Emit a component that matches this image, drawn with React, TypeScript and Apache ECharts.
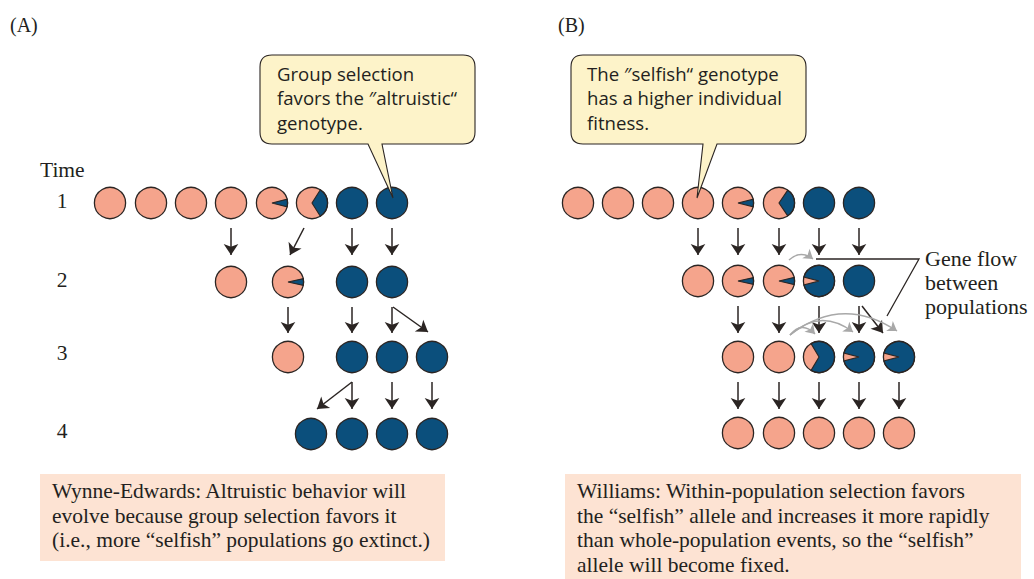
import React, { useEffect, useRef } from "react";
import * as echarts from "echarts";

// ---------- data ----------
// populations: [x, y, fraction of the "altruistic" (blue) genotype]
const panelAPopulations: number[][] = [
  [110, 203, 0], [151, 203, 0], [191, 203, 0], [231, 203, 0], [272, 203, 0.08], [312, 203, 0.32], [352, 203, 1], [392, 203, 1],
  [231, 282, 0], [288, 282, 0.07], [352, 282, 1], [392, 282, 1],
  [288, 357, 0], [352, 357, 1], [392, 357, 1], [432, 357, 1],
  [311, 434, 1], [352, 434, 1], [392, 434, 1], [432, 434, 1],
];
const panelBPopulations: number[][] = [
  [578, 203, 0], [618, 203, 0], [658, 203, 0], [698, 203, 0], [738, 203, 0.078], [779, 203, 0.31], [819, 203, 1], [859, 203, 1],
  [698, 281, 0], [738, 281, 0.07], [779, 281, 0.075], [819, 281, 0.92], [859, 281, 1],
  [738, 357, 0], [779, 357, 0], [819, 357, 0.67], [859, 357, 0.92], [899, 357, 0.92],
  [738, 433, 0], [779, 433, 0], [819, 433, 0], [859, 433, 0], [899, 433, 0],
];
// descent arrows: [x1, y1, x2, y2]
const descentArrows: number[][] = [
  [231, 228, 231, 255], [304, 228, 290, 255], [352, 228, 352, 255], [392, 228, 392, 255],
  [288, 307, 288, 333], [352, 307, 352, 333], [392, 307, 392, 333], [393, 307, 428, 332],
  [352, 382, 317, 409], [352, 382, 352, 409], [392, 382, 392, 409], [432, 382, 432, 409],
  [698, 228, 698, 255], [738, 228, 738, 255], [779, 228, 779, 255], [819, 228, 819, 255], [859, 228, 859, 255],
  [738, 306, 738, 333], [779, 306, 779, 333], [819, 306, 819, 333], [859, 306, 859, 333], [862, 306, 883, 333],
  [738, 382, 738, 409], [779, 382, 779, 409], [819, 382, 819, 409], [859, 382, 859, 409], [899, 382, 899, 409],
];
// gene-flow arcs: [x1, y1, x2, y2, curveness]
const geneFlowArcs: number[][] = [
  [789, 260, 813, 259, 0.42],
  [790, 335, 815, 334, 0.56],
  [790, 335, 853, 332, 0.41],
  [790, 335, 897, 331, 0.36],
];
const geneFlowLeader: number[][] = [[816, 259], [919, 259], [887, 316]];

const panelLabels = ["(A)", "(B)"];
const timeTitle = "Time";
const rowLabels = ["1", "2", "3", "4"];
const calloutA = ["Group selection", "favors the \u2033altruistic\u201C", "genotype."];
const calloutB = ["The \u2033selfish\u201C genotype", "has a higher individual", "fitness."];
const geneFlowText = ["Gene flow", "between", "populations"];
const captionA = [
  "Wynne-Edwards: Altruistic behavior will",
  "evolve because group selection favors it",
  "(i.e., more \u201Cselfish\u201D populations go extinct.)",
];
const captionB = [
  "Williams: Within-population selection favors",
  "the \u201Cselfish\u201D allele and increases it more rapidly",
  "than whole-population events, so the \u201Cselfish\u201D",
  "allele will become fixed.",
];

// ---------- style ----------
const PINK = "#f5a48c";
const BLUE = "#0b4f7c";
const DARK = "#2b2523";
const GRAY = "#a8a8a8";
const CALLOUT = "#fdf3c9";
const BOX = "#fde3d3";
const TEXT = "#231f20";
const SERIF = "'Liberation Serif', 'Times New Roman', serif";
const SANS = "'Open Sans', 'Noto Sans', sans-serif";

echarts.graphic.registerShape(
  "calloutA",
  echarts.graphic.extendPath(
    "M272,55 L463,55 Q475,55 475,67 L475,132 Q475,144 463,144 L382,144 L393,198 L368,144 L272,144 Q260,144 260,132 L260,67 Q260,55 272,55 Z",
    {}
  )
);
echarts.graphic.registerShape(
  "calloutB",
  echarts.graphic.extendPath(
    "M583,55 L794,55 Q806,55 806,67 L806,132 Q806,144 794,144 L717,144 L697,198 L703,144 L583,144 Q571,144 571,132 L571,67 Q571,55 583,55 Z",
    {}
  )
);

function textEl(text: string, x: number, baseline: number, size: number, family: string, align = "left") {
  return {
    type: "text",
    x,
    y: baseline - size * 0.32,
    z: 20,
    style: {
      text,
      fill: TEXT,
      fontSize: size,
      fontFamily: family,
      textAlign: align,
      textVerticalAlign: "middle",
    },
  };
}

function lines(arr: string[], x: number, firstBaseline: number, step: number, size: number, family: string) {
  return arr.map((t, i) => textEl(t, x, firstBaseline + i * step, size, family));
}

export default function App() {
  const ref = useRef<HTMLDivElement>(null);
  useEffect(() => {
    if (!ref.current) return;
    const chart = echarts.init(ref.current, undefined, { renderer: "svg" });
    const R = 15.6;
    const renderPop = (params: any, api: any) => {
      const p = api.coord([api.value(0), api.value(1)]);
      const f = api.value(2);
      const children: any[] = [
        { type: "circle", shape: { cx: p[0], cy: p[1], r: R }, style: { fill: f >= 0.999 ? BLUE : PINK } },
      ];
      if (f > 0 && f < 0.999) {
        const half = f * Math.PI;
        children.push({
          type: "sector",
          shape: { cx: p[0], cy: p[1], r: R, r0: 0, startAngle: -half, endAngle: half, clockwise: true },
          style: { fill: BLUE, stroke: DARK, lineWidth: 1.1, lineJoin: "miter" },
        });
      }
      children.push({
        type: "circle",
        shape: { cx: p[0], cy: p[1], r: R },
        style: { fill: "none", stroke: DARK, lineWidth: 1.3 },
      });
      return { type: "group", children };
    };
    const graphic: any[] = [
      { type: "rect", shape: { x: 40, y: 474, width: 405, height: 87 }, style: { fill: BOX }, z: 1 },
      { type: "rect", shape: { x: 565, y: 474, width: 456, height: 105 }, style: { fill: BOX }, z: 1 },
      { type: "calloutA", x: 0, y: 0, z: 10, style: { fill: CALLOUT, stroke: DARK, lineWidth: 1.1, lineJoin: "miter" } },
      { type: "calloutB", x: 0, y: 0, z: 10, style: { fill: CALLOUT, stroke: DARK, lineWidth: 1.1, lineJoin: "miter" } },
      textEl(panelLabels[0], 10, 31, 20, SERIF),
      textEl(panelLabels[1], 558, 31, 20, SERIF),
      textEl(timeTitle, 40, 177, 21.5, SERIF),
      ...rowLabels.map((t, i) => textEl(t, 62, [208, 287, 360, 438][i], 21.5, SERIF, "center")),
      ...lines(calloutA, 277, 79, 24.5, 18.6, SANS),
      ...lines(calloutB, 587, 79, 24.5, 18.6, SANS),
      ...lines(geneFlowText, 925, 266, 24, 22, SERIF),
      ...lines(captionA, 52, 498, 24.5, 21.5, SERIF),
      ...lines(captionB, 577, 498, 24.5, 21.5, SERIF),
    ];
    chart.setOption({
      animation: false,
      grid: { left: 0, right: 0, top: 0, bottom: 0 },
      xAxis: { type: "value", min: 0, max: 1034, show: false },
      yAxis: { type: "value", min: 0, max: 579, inverse: true, show: false },
      graphic,
      series: [
        {
          type: "custom",
          coordinateSystem: "cartesian2d",
          renderItem: renderPop,
          data: [...panelAPopulations, ...panelBPopulations],
          z: 3,
        },
        {
          type: "lines",
          coordinateSystem: "cartesian2d",
          symbol: ["none", "arrow"],
          symbolSize: [8, 11],
          lineStyle: { color: DARK, width: 1.5, opacity: 1, curveness: 0 },
          data: descentArrows.map((a) => ({ coords: [[a[0], a[1]], [a[2], a[3]]] })),
          z: 4,
        },
        {
          type: "lines",
          coordinateSystem: "cartesian2d",
          symbol: ["none", "arrow"],
          symbolSize: [7, 9],
          lineStyle: { color: GRAY, width: 1.5, opacity: 1 },
          data: geneFlowArcs.map((a) => ({
            coords: [[a[0], a[1]], [a[2], a[3]]],
            lineStyle: { curveness: a[4] },
          })),
          z: 4,
        },
        {
          type: "lines",
          coordinateSystem: "cartesian2d",
          polyline: true,
          symbol: "none",
          lineStyle: { color: DARK, width: 1.3, opacity: 1 },
          data: [{ coords: geneFlowLeader }],
          z: 4,
        },
      ],
    });
    return () => chart.dispose();
  }, []);
  return (
    <div
      ref={ref}
      style={{ position: "fixed", left: 0, top: 0, width: 1034, height: 579, background: "#fff" }}
    />
  );
}
